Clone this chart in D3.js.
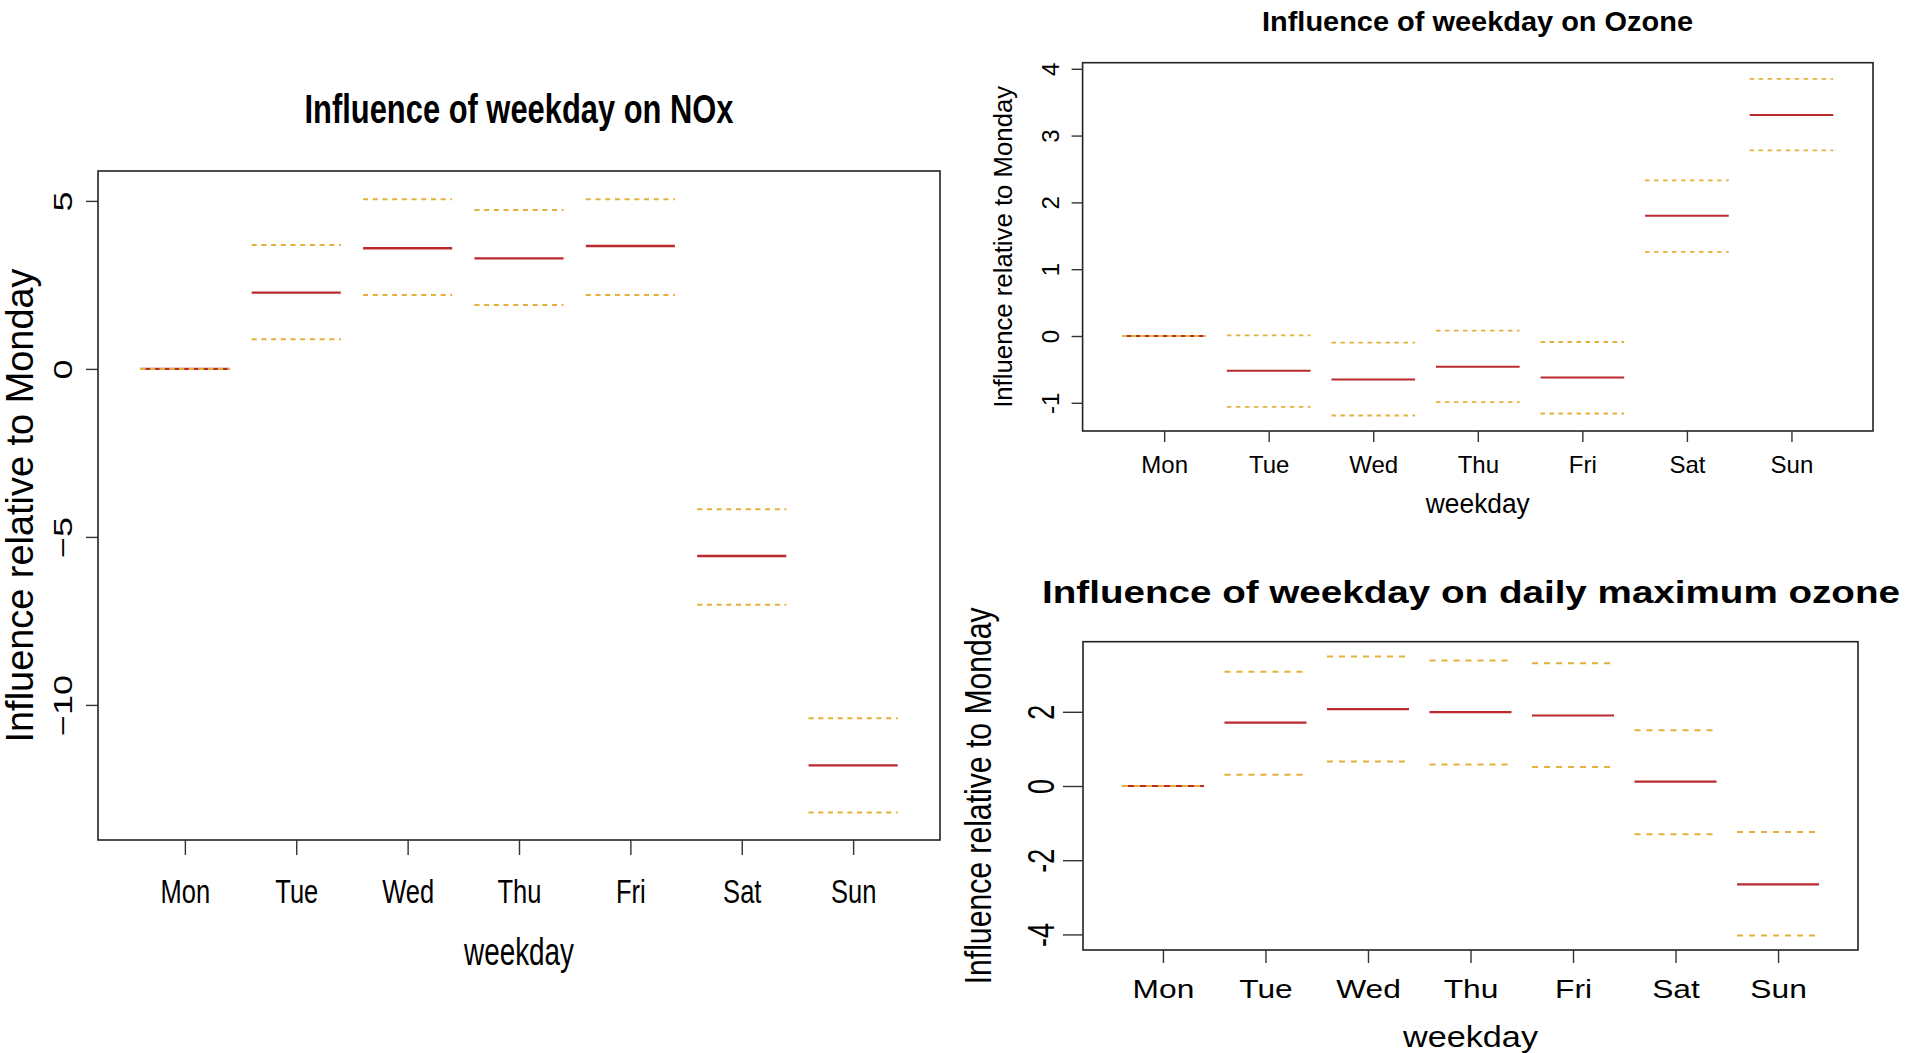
<!DOCTYPE html>
<html>
<head>
<meta charset="utf-8">
<script src="https://cdn.jsdelivr.net/npm/d3@7"></script>
<style>
  body { margin: 0; background: #fff; }
</style>
</head>
<body>
<svg width="1907" height="1053"></svg>
<script>
// weekday effects relative to Monday
var days = ["Mon", "Tue", "Wed", "Thu", "Fri", "Sat", "Sun"];

var noxMean  = [0, 2.27, 3.59, 3.29, 3.66, -5.57, -11.8];
var noxLower = [0, 0.88, 2.20, 1.90, 2.20, -7.02, -13.2];
var noxUpper = [0, 3.69, 5.05, 4.73, 5.05, -4.18, -10.4];
var noxTicks = [-10, -5, 0, 5];

var ozoneMean  = [0, -0.52, -0.65, -0.46, -0.62, 1.80, 3.31];
var ozoneLower = [0, -1.06, -1.19, -0.99, -1.16, 1.26, 2.78];
var ozoneUpper = [0, 0.01, -0.10, 0.08, -0.09, 2.33, 3.85];
var ozoneTicks = [-1, 0, 1, 2, 3, 4];

var maxMean  = [0, 1.71, 2.07, 1.99, 1.90, 0.12, -2.65];
var maxLower = [0, 0.30, 0.66, 0.58, 0.51, -1.30, -4.03];
var maxUpper = [0, 3.08, 3.49, 3.38, 3.31, 1.50, -1.24];
var maxTicks = [-4, -2, 0, 2];

var font = "'Liberation Sans', Arial, sans-serif";
var meanColor = "#bb2a2e",
    ciColor = "#e3b03a";

var svg = d3.select("svg");

// layout of each panel (the source image squeezes / stretches them differently)
var panels = [
  { title: "Influence of weekday on NOx", mean: noxMean, lower: noxLower, upper: noxUpper, ticks: noxTicks,
    left: 98, right: 940, top: 171, bottom: 840, yDom: [-14.02, 5.89],
    titleX: 519, titleY: 123, titleFs: 41, titleLen: 429,
    xTick: 15, xLabY: 903, xFs: 34, xSx: 0.75,
    xTitleY: 965, xTitleFs: 38, xTitleLen: 110,
    yTick: 12, yLabX: 72, yFs: 36, ySx: 0.74, minus: "\u2212",
    yTitleX: 33, yTitleFs: 38, yTitleLen: 474, yTitleSx: 1,
    dash: "5,4.7", meanW: 2.4, ciW: 2 },
  { title: "Influence of weekday on Ozone", mean: ozoneMean, lower: ozoneLower, upper: ozoneUpper, ticks: ozoneTicks,
    left: 1082.6, right: 1873, top: 62.7, bottom: 431, yDom: [-1.422, 4.091],
    titleX: 1477.5, titleY: 31, titleFs: 27.5, titleLen: 431,
    xTick: 11, xLabY: 472.5, xFs: 24, xSx: 1,
    xTitleY: 513, xTitleFs: 27, xTitleLen: 104,
    yTick: 11, yLabX: 1059, yFs: 24, ySx: 1, minus: "-",
    yTitleX: 1012, yTitleFs: 25.5, yTitleLen: 322, yTitleSx: 1,
    dash: "4.5,4.5", meanW: 2, ciW: 1.8 },
  { title: "Influence of weekday on daily maximum ozone", mean: maxMean, lower: maxLower, upper: maxUpper, ticks: maxTicks,
    left: 1083, right: 1858, top: 641.7, bottom: 950, yDom: [-4.42, 3.889],
    titleX: 1471, titleY: 603, titleFs: 32, titleLen: 858,
    xTick: 13, xLabY: 998.3, xFs: 25.6, xSx: 1.24,
    xTitleY: 1046.5, xTitleFs: 30, xTitleLen: 135,
    yTick: 20, yLabX: 1054, yFs: 27, ySx: 1.35, minus: "-",
    yTitleX: 991, yTitleFs: 30, yTitleLen: 377, yTitleSx: 1.22,
    dash: "6,6", meanW: 2.2, ciW: 2 }
];

panels.forEach(function(p) {
  var x = d3.scaleLinear().domain([0.22, 7.78]).range([p.left, p.right]);
  var y = d3.scaleLinear().domain(p.yDom).range([p.bottom, p.top]);

  var rows = days.map(function(d, i) {
    return { pos: i + 1, mean: p.mean[i], lower: p.lower[i], upper: p.upper[i] };
  });

  // Title
  svg.append("text")
    .attr("x", p.titleX).attr("y", p.titleY)
    .attr("text-anchor", "middle")
    .attr("font-family", font).attr("font-weight", "bold")
    .attr("font-size", p.titleFs)
    .attr("textLength", p.titleLen).attr("lengthAdjust", "spacingAndGlyphs")
    .text(p.title);

  // mean effect
  svg.append("g").selectAll("line")
    .data(rows)
    .enter().append("line")
    .attr("x1", function(d) { return x(d.pos - 0.4); })
    .attr("x2", function(d) { return x(d.pos + 0.4); })
    .attr("y1", function(d) { return y(d.mean); })
    .attr("y2", function(d) { return y(d.mean); })
    .attr("stroke", meanColor)
    .attr("stroke-width", p.meanW);

  // confidence bounds, dashed
  ["lower", "upper"].forEach(function(k) {
    svg.append("g").selectAll("line")
      .data(rows)
      .enter().append("line")
      .attr("x1", function(d) { return x(d.pos - 0.4); })
      .attr("x2", function(d) { return x(d.pos + 0.4); })
      .attr("y1", function(d) { return y(d[k]); })
      .attr("y2", function(d) { return y(d[k]); })
      .attr("stroke", ciColor)
      .attr("stroke-width", p.ciW)
      .attr("stroke-dasharray", p.dash);
  });

  // box
  svg.append("rect")
    .attr("x", p.left).attr("y", p.top)
    .attr("width", p.right - p.left).attr("height", p.bottom - p.top)
    .attr("fill", "none").attr("stroke", "#222").attr("stroke-width", 1.6);

  // Add X axis
  var gx = svg.append("g")
    .attr("transform", "translate(0," + p.bottom + ")")
    .call(d3.axisBottom(x).tickValues(d3.range(1, 8)).tickSize(p.xTick)
      .tickFormat(function(i) { return days[i - 1]; }));
  gx.select(".domain").remove();
  gx.selectAll(".tick line").attr("stroke", "#333").attr("stroke-width", 1.4);
  gx.attr("font-family", font).attr("font-size", p.xFs);
  gx.selectAll(".tick text")
    .attr("y", 0).attr("dy", null)
    .attr("fill", "#000")
    .attr("transform", "translate(0," + (p.xLabY - p.bottom) + ") scale(" + p.xSx + ",1)");

  // Add Y axis
  var gy = svg.append("g")
    .attr("transform", "translate(" + p.left + ",0)")
    .call(d3.axisLeft(y).tickValues(p.ticks).tickSize(p.yTick)
      .tickFormat(function(d) { return d < 0 ? p.minus + Math.abs(d) : String(d); }));
  gy.select(".domain").remove();
  gy.selectAll(".tick line").attr("stroke", "#333").attr("stroke-width", 1.4);
  gy.attr("font-family", font).attr("font-size", p.yFs);
  gy.selectAll(".tick text")
    .attr("x", 0).attr("dy", null)
    .attr("text-anchor", "middle")
    .attr("fill", "#000")
    .attr("transform", "translate(" + (p.yLabX - p.left) + ",0) scale(" + p.ySx + ",1) rotate(-90)");

  // axis titles
  svg.append("text")
    .attr("x", (p.left + p.right) / 2).attr("y", p.xTitleY)
    .attr("text-anchor", "middle")
    .attr("font-family", font).attr("font-size", p.xTitleFs)
    .attr("textLength", p.xTitleLen).attr("lengthAdjust", "spacingAndGlyphs")
    .text("weekday");

  svg.append("text")
    .attr("transform", "translate(" + p.yTitleX + "," + ((p.top + p.bottom) / 2) + ") scale(" + p.yTitleSx + ",1) rotate(-90)")
    .attr("text-anchor", "middle")
    .attr("font-family", font).attr("font-size", p.yTitleFs)
    .attr("textLength", p.yTitleLen).attr("lengthAdjust", "spacingAndGlyphs")
    .text("Influence relative to Monday");
});
</script>
</body>
</html>
